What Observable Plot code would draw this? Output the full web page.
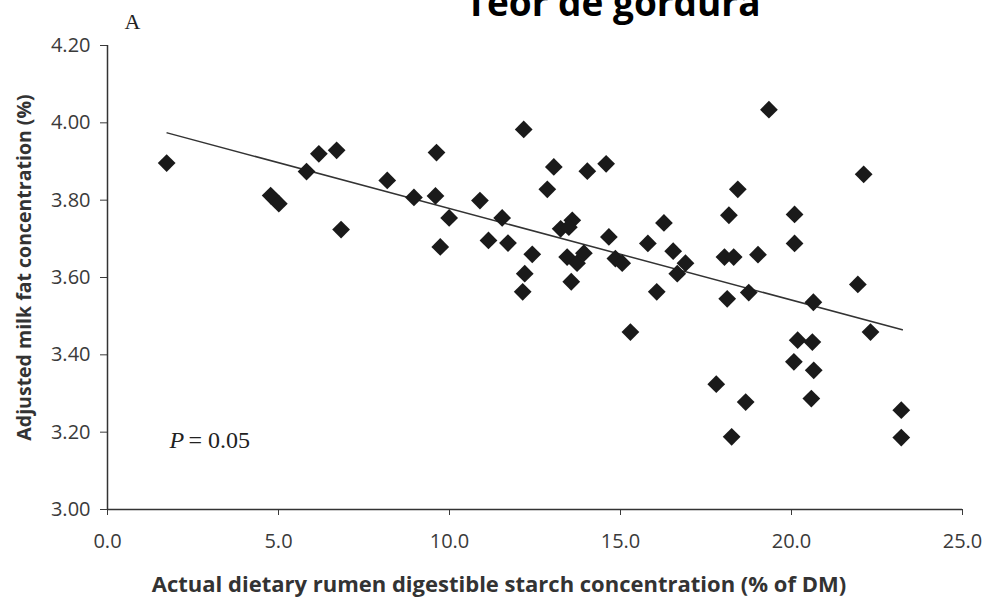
<!DOCTYPE html>
<html><head><meta charset="utf-8">
<script src="https://cdn.jsdelivr.net/npm/d3@7"></script>
<script src="https://cdn.jsdelivr.net/npm/@observablehq/plot@0.6"></script>
<style>body{margin:0;background:#fff}</style>
</head><body><div id="chart"></div>
<script>
const starch = [1.73, 4.77, 5.01, 5.82, 6.18, 6.70, 6.83, 8.18, 8.96, 9.62, 9.59, 9.99, 9.73, 10.89, 11.14, 11.54, 11.71, 12.17, 12.42, 12.20, 12.14, 13.05, 12.86, 14.03, 14.58, 13.59, 13.25, 13.49, 13.44, 13.73, 13.93, 13.56, 14.66, 14.85, 15.05, 15.29, 15.80, 16.27, 16.54, 16.90, 16.66, 16.06, 18.43, 18.17, 18.04, 18.31, 18.12, 19.34, 22.11, 20.09, 20.09, 19.02, 18.75, 20.64, 21.94, 22.31, 20.18, 20.61, 20.07, 20.65, 17.80, 18.66, 20.58, 23.21, 18.25, 23.21];
const milkFat = [3.896, 3.812, 3.791, 3.874, 3.920, 3.929, 3.724, 3.851, 3.807, 3.923, 3.811, 3.754, 3.679, 3.799, 3.696, 3.754, 3.689, 3.983, 3.660, 3.610, 3.563, 3.886, 3.828, 3.875, 3.894, 3.748, 3.726, 3.730, 3.653, 3.637, 3.663, 3.589, 3.705, 3.649, 3.637, 3.459, 3.688, 3.741, 3.668, 3.637, 3.610, 3.563, 3.828, 3.761, 3.653, 3.653, 3.545, 4.034, 3.867, 3.763, 3.688, 3.659, 3.561, 3.536, 3.582, 3.459, 3.438, 3.433, 3.382, 3.360, 3.324, 3.278, 3.287, 3.257, 3.188, 3.186];
const trendStarch = [1.745, 23.24];
const trendFat = [3.974, 3.465];
const xTicks = [0, 5, 10, 15, 20, 25];
const yTicks = [3.0, 3.2, 3.4, 3.6, 3.8, 4.0, 4.2];
const title = "Teor de gordura";
const panelLabel = "A";
const xLabel = "Actual dietary rumen digestible starch concentration (% of DM)";
const yLabel = "Adjusted milk fat concentration (%)";
const pSymbol = "P";
const pValue = "= 0.05";

const points = starch.map((x, i) => ({x, y: milkFat[i]}));
const trend = trendStarch.map((x, i) => ({x, y: trendFat[i]}));
const serif = "'Liberation Serif', 'Times New Roman', serif";

const chart = Plot.plot({
  width: 987, height: 600,
  marginLeft: 107, marginRight: 25, marginTop: 45, marginBottom: 91,
  style: {fontFamily: "'Open Sans', sans-serif", fontSize: "20px", color: "#3a3a3a", background: "#fff"},
  x: {domain: [0, 25]},
  y: {domain: [3.0, 4.2]},
  marks: [
    Plot.axisY({ticks: yTicks, tickFormat: d3.format(".2f"), tickSize: 7, tickPadding: 10, label: null, fontSize: 20}),
    Plot.axisX({ticks: xTicks, tickFormat: d3.format(".1f"), tickSize: 6, tickPadding: 18, label: null, fontSize: 20}),
    Plot.ruleX([0], {stroke: "#333", strokeWidth: 1.5}),
    Plot.ruleY([3.0], {stroke: "#333", strokeWidth: 1.5}),
    Plot.line(trend, {x: "x", y: "y", stroke: "#333", strokeWidth: 1.5}),
    Plot.dot(points, {x: "x", y: "y", symbol: "diamond2", r: 8, fill: "#1a1a1a", stroke: "none"}),
    Plot.text([title], {text: d => d, frameAnchor: "top-left", dx: 358, dy: -41, textAnchor: "start", lineAnchor: "middle", fontSize: 37, fontWeight: 700, fill: "#000"}),
    Plot.text([panelLabel], {text: d => d, frameAnchor: "top-left", dx: 17, dy: -24, textAnchor: "start", lineAnchor: "middle", fontSize: 22, fontFamily: serif, fill: "#222"}),
    Plot.text([pSymbol], {text: d => d, frameAnchor: "bottom-left", dx: 62, dy: -69, textAnchor: "start", lineAnchor: "middle", fontSize: 24, fontStyle: "italic", fontFamily: serif, fill: "#222"}),
    Plot.text([pValue], {text: d => d, frameAnchor: "bottom-left", dx: 81, dy: -69, textAnchor: "start", lineAnchor: "middle", fontSize: 24, fontFamily: serif, fill: "#222"}),
    Plot.text([yLabel], {text: d => d, frameAnchor: "left", rotate: -90, dx: -83, dy: -10, textAnchor: "middle", lineAnchor: "middle", fontSize: 19.5, fontWeight: 700, fill: "#333"}),
    Plot.text([xLabel], {text: d => d, frameAnchor: "bottom", dx: -36, dy: 75, textAnchor: "middle", lineAnchor: "middle", fontSize: 22, fontWeight: 700, fill: "#333"})
  ]
});
document.getElementById("chart").appendChild(chart);
</script>
</body></html>
